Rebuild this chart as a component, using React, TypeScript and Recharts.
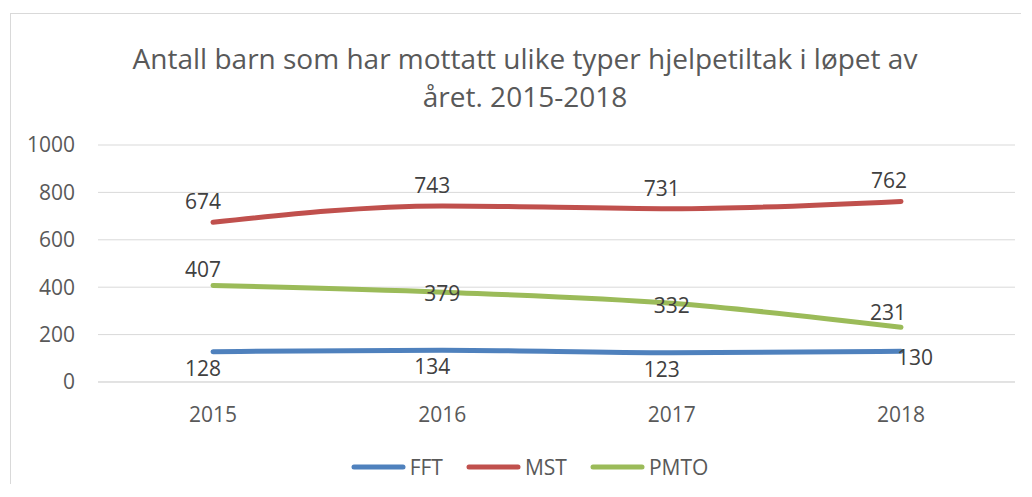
import React from 'react';
import { LineChart, Line, XAxis, YAxis, CartesianGrid, Legend, LabelList } from 'recharts';

const years = ['2015', '2016', '2017', '2018'];
const fftValues = [128, 134, 123, 130];
const mstValues = [674, 743, 731, 762];
const pmtoValues = [407, 379, 332, 231];
const yTicks = [0, 200, 400, 600, 800, 1000];
const seriesNames = ['FFT', 'MST', 'PMTO'];
const titleLines = ['Antall barn som har mottatt ulike typer hjelpetiltak i løpet av', 'året. 2015-2018'];

const colors: Record<string, string> = { FFT: '#4F81BD', MST: '#C0504D', PMTO: '#9BBB59' };
const FONT = '"Open Sans", sans-serif';

const data = years.map((y, i) => ({ year: y, FFT: fftValues[i], MST: mstValues[i], PMTO: pmtoValues[i] }));

// label placement style per series (Excel auto-placement)
const labelOffsets: Record<string, Array<[number, number]>> = {
  FFT: [[-10, 16], [-10, 16], [-10, 16], [14, 6]],
  MST: [[-10, -21], [-10, -21], [-10, -21], [-12, -21]],
  PMTO: [[-10, -17], [0, 1], [0, 2], [-13, -15]],
};

const makeLabel = (name: string) => (props: any) => {
  const { x, y, value, index } = props;
  const [dx, dy] = labelOffsets[name][index] || [0, 0];
  return (
    <text x={x + dx} y={y + dy} textAnchor="middle" dominantBaseline="central" fill="#404040" fontSize={21} fontFamily={FONT}>
      {value}
    </text>
  );
};

const LegendContent = () => (
  <div style={{ display: 'flex', justifyContent: 'center', alignItems: 'center', paddingLeft: 50, height: 30, fontFamily: FONT, fontSize: 21, color: '#595959' }}>
    {seriesNames.map((n) => (
      <div key={n} style={{ display: 'flex', alignItems: 'center', marginRight: 23 }}>
        <svg width={55} height={10} style={{ marginRight: 4 }}>
          <line x1={3} y1={5} x2={52} y2={5} stroke={colors[n]} strokeWidth={5} strokeLinecap="round" />
        </svg>
        <span>{n}</span>
      </div>
    ))}
  </div>
);

export default function App() {
  return (
    <div style={{ position: 'relative', marginLeft: 2, marginTop: 5, width: 1010, height: 470, borderLeft: '1px solid #d9d9d9', borderTop: '1px solid #d9d9d9', background: '#fff' }}>
      <div style={{ position: 'absolute', left: 64, width: 900, top: 25, textAlign: 'center', fontFamily: FONT, fontSize: 28, lineHeight: '38px', color: '#595959', whiteSpace: 'nowrap' }}>
        {titleLines.map((t) => (
          <div key={t}>{t}</div>
        ))}
      </div>
      <LineChart width={1010} height={470} data={data} margin={{ top: 131, left: 27, right: 6, bottom: 2 }}>
        <CartesianGrid vertical={false} stroke="#d9d9d9" strokeWidth={1} />
        <XAxis
          dataKey="year"
          height={70}
          padding={{ left: 115, right: 114 }}
          axisLine={{ stroke: '#d9d9d9', strokeWidth: 1 }}
          tickLine={false}
          tickSize={0}
          tickMargin={25}
          tick={{ fill: '#595959', fontSize: 21, fontFamily: FONT }}
        />
        <YAxis
          width={60}
          domain={[0, 1000]}
          ticks={yTicks}
          axisLine={false}
          tickLine={false}
          tickSize={0}
          tickMargin={23}
          tick={{ fill: '#595959', fontSize: 21, fontFamily: FONT }}
        />
        <Legend verticalAlign="bottom" wrapperStyle={{ left: 0, width: 1010, height: 30 }} content={() => <LegendContent />} />
        {seriesNames.map((n) => (
          <Line key={n} type="monotone" dataKey={n} stroke={colors[n]} strokeWidth={5} strokeLinecap="round" dot={false} activeDot={false} isAnimationActive={false}>
            <LabelList dataKey={n} content={makeLabel(n)} />
          </Line>
        ))}
      </LineChart>
    </div>
  );
}
